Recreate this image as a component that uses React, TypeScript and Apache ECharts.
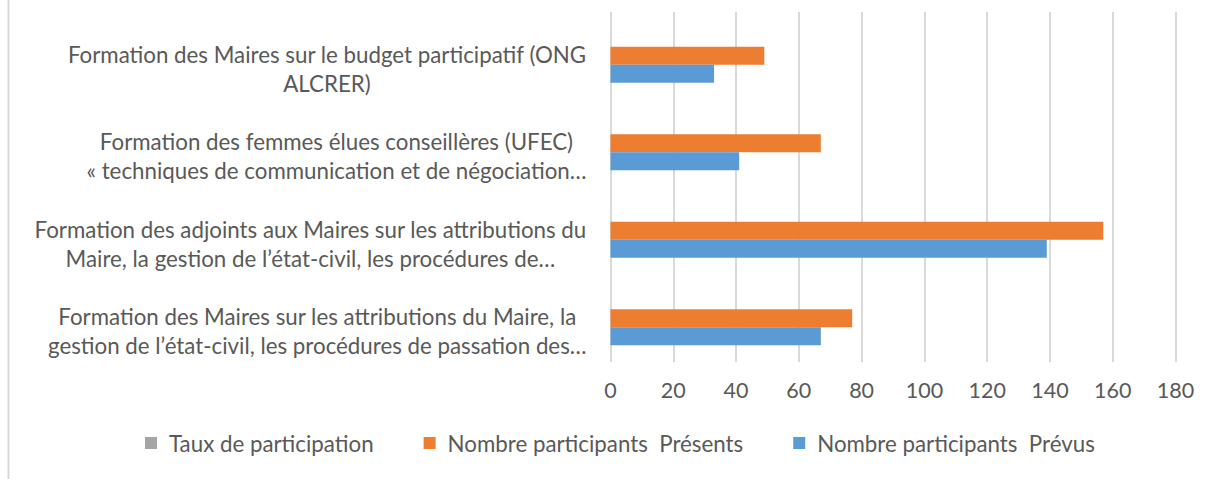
import React, { useEffect, useRef } from "react";
import * as echarts from "echarts";

// Categories, listed bottom to top (as in the source sheet)
const categories: string[] = [
  "Formation des Maires sur les attributions du Maire, la\ngestion de l’état-civil, les procédures de passation des…",
  "Formation des adjoints aux Maires sur les attributions du\nMaire, la gestion de l’état-civil, les procédures de…",
  "Formation des femmes élues conseillères (UFEC)\n« techniques de communication et de négociation…",
  "Formation des Maires sur le budget participatif (ONG\nALCRER)",
];

const seriesNames: string[] = [
  "Taux de participation",
  "Nombre participants  Présents",
  "Nombre participants  Prévus",
];

const tauxParticipation: (number | null)[] = [null, null, null, null];
const presents: number[] = [77, 157, 67, 49];
const prevus: number[] = [67, 139, 41, 33];

const xTicks = { min: 0, max: 180, interval: 20 };

export default function App() {
  const ref = useRef<HTMLDivElement>(null);

  useEffect(() => {
    if (!ref.current) return;
    const chart = echarts.init(ref.current, undefined, { renderer: "svg" });
    const font = "Lato, 'Open Sans', sans-serif";
    const textColor = "#595959";
    const catSize = 22.3;
    chart.setOption({
      animation: false,
      color: ["#A5A5A5", "#ED7D31", "#5B9BD5"],
      textStyle: { fontFamily: font },
      graphic: [
        {
          type: "line",
          shape: { x1: 8.5, y1: 0, x2: 8.5, y2: 479 },
          style: { stroke: "#d9d9d9", lineWidth: 2 },
        },
      ],
      grid: { left: 610.5, right: 43.5, top: 12, bottom: 117, containLabel: false },
      legend: {
        left: 145,
        top: 432,
        padding: 0,
        itemWidth: 12,
        itemHeight: 12,
        itemGap: 50,
        icon: "rect",
        data: seriesNames,
        textStyle: { fontSize: 22.3, color: textColor, fontFamily: font, padding: [0, 0, 0, 7] },
      },
      xAxis: {
        type: "value",
        min: xTicks.min,
        max: xTicks.max,
        interval: xTicks.interval,
        axisLine: { show: false },
        axisTick: { show: false },
        splitLine: { show: true, lineStyle: { color: "#d9d9d9", width: 2 } },
        axisLabel: { color: textColor, fontSize: 21.5, margin: 17, fontFamily: font },
      },
      yAxis: {
        type: "category",
        data: categories,
        axisLine: { show: false },
        axisTick: { show: false },
        axisLabel: {
          color: textColor,
          fontSize: catSize,
          lineHeight: 29,
          margin: 24,
          padding: [26, 0, 0, 0],
          fontFamily: font,
          formatter: (v: string) =>
            v
              .split("\n")
              .map((l) => "{c|" + l + "}")
              .join("\n"),
          rich: {
            c: { align: "center", color: textColor, fontSize: catSize, lineHeight: 29, fontFamily: font },
          },
        },
      },
      series: [
        { name: seriesNames[0], type: "bar", data: tauxParticipation, barWidth: 18, barGap: "0%" },
        { name: seriesNames[1], type: "bar", data: presents, barWidth: 18, barGap: "0%" },
        { name: seriesNames[2], type: "bar", data: prevus, barWidth: 18, barGap: "0%" },
      ],
    });
    return () => chart.dispose();
  }, []);

  return (
    <div
      ref={ref}
      style={{ position: "fixed", left: 0, top: 0, width: 1219, height: 479, background: "#fff" }}
    />
  );
}
